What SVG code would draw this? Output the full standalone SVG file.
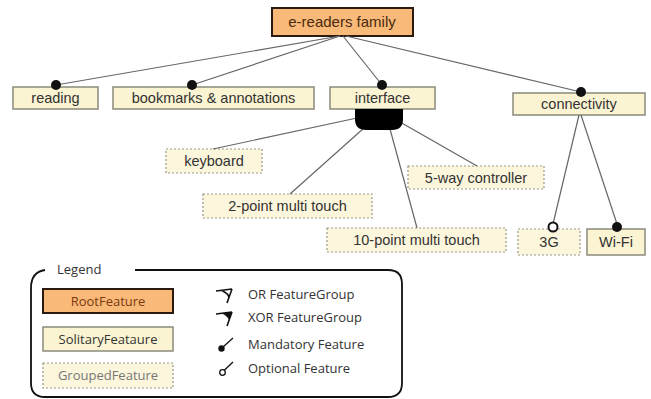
<svg xmlns="http://www.w3.org/2000/svg" width="651" height="399" viewBox="0 0 651 399">
<style>
.t{font-family:"Liberation Sans",Arial,sans-serif;font-size:14.5px;fill:#333;text-anchor:middle}
.lg{font-family:"Open Sans","Liberation Sans",sans-serif;font-size:13px;fill:#333}
.sol{fill:#FBF4D2;stroke:#8c8a7c;stroke-width:1.5}
.grp{fill:#FCF6DC;stroke:#9a988a;stroke-width:1.2;stroke-dasharray:2 2}
.root{fill:#F9B978;stroke:#2a1a10;stroke-width:2}
.ln{stroke:#666;stroke-width:1.2;fill:none}
.dot{fill:#111}
</style>
<rect width="651" height="399" fill="#fff"/>
<g id="root"><rect class="root" x="272" y="8" width="141" height="28"/><text class="t" x="342" y="27" style="fill:#4a2a10;font-size:15px">e-readers family</text></g>
<g id="reading"><rect class="sol" x="13" y="87" width="85" height="22"/><text class="t" x="55.5" y="103">reading</text></g>
<g id="bookmarks"><rect class="sol" x="113" y="87" width="201" height="22"/><text class="t" x="213.5" y="103">bookmarks &amp; annotations</text></g>
<g id="interface"><rect class="sol" x="330" y="87" width="105" height="22"/><text class="t" x="382.5" y="103">interface</text></g>
<g id="connectivity"><rect class="sol" x="513" y="93" width="132" height="22"/><text class="t" x="579" y="109">connectivity</text></g>
<g id="keyboard"><rect class="grp" x="166" y="149" width="96" height="24"/><text class="t" x="214" y="166">keyboard</text></g>
<g id="five-way"><rect class="grp" x="408" y="166" width="136" height="23"/><text class="t" x="476" y="183">5-way controller</text></g>
<g id="two-point"><rect class="grp" x="203" y="194" width="169" height="24"/><text class="t" x="287.5" y="211">2-point multi touch</text></g>
<g id="ten-point"><rect class="grp" x="327" y="228" width="179" height="24"/><text class="t" x="416.5" y="245">10-point multi touch</text></g>
<g id="g3"><rect class="grp" x="518" y="229" width="62" height="26"/><text class="t" x="549" y="247">3G</text></g>
<g id="wifi"><rect class="sol" x="587" y="229" width="58" height="26"/><text class="t" x="616" y="247">Wi-Fi</text></g>
<g id="connectors">
<line class="ln" x1="340" y1="36" x2="56" y2="85"/>
<line class="ln" x1="340" y1="36" x2="192" y2="85"/>
<line class="ln" x1="343" y1="36" x2="382" y2="85"/>
<line class="ln" x1="346" y1="36" x2="581" y2="92"/>
<line class="ln" x1="357" y1="118" x2="213" y2="149"/>
<line class="ln" x1="364" y1="128" x2="290" y2="194"/>
<line class="ln" x1="390" y1="129" x2="417" y2="228"/>
<line class="ln" x1="400" y1="122" x2="477" y2="166"/>
<line class="ln" x1="579" y1="115" x2="553" y2="224"/>
<line class="ln" x1="581" y1="115" x2="617" y2="224"/>
<circle class="dot" cx="56" cy="85" r="5"/>
<circle class="dot" cx="192" cy="85" r="5"/>
<circle class="dot" cx="382" cy="85" r="5"/>
<circle class="dot" cx="581" cy="92" r="5"/>
<circle cx="553" cy="227" r="4.5" fill="#fff" stroke="#111" stroke-width="2"/>
<circle class="dot" cx="617" cy="227" r="5"/>
<path d="M355,109 H403 V119 Q403,130 392,130 H366 Q355,130 355,119 Z" fill="#000"/>
</g>
<g id="legend">
<path d="M45,270 Q31,272 31,288 V383 Q31,397 45,397 H388 Q402,397 402,383 V284 Q402,270 388,270 H135" fill="none" stroke="#111" stroke-width="1.8"/>
<text class="lg" x="57" y="274">Legend</text>
<rect class="root" x="43" y="289" width="130" height="24"/><text class="lg" x="108" y="305.5" text-anchor="middle" style="fill:#7a3a10">RootFeature</text>
<rect class="sol" x="43" y="327" width="130" height="24"/><text class="lg" x="108" y="343.5" text-anchor="middle">SolitaryFeataure</text>
<rect class="grp" x="43" y="363" width="130" height="25"/><text class="lg" x="108" y="380" text-anchor="middle" style="fill:#777">GroupedFeature</text>
<path d="M232,289 L216,291 M232,289 L227,303 M222,290.5 Q229,294 229,298" fill="none" stroke="#111" stroke-width="1.6"/>
<path d="M232,312 L216,314 M232,312 L227,326" fill="none" stroke="#111" stroke-width="1.6"/>
<path d="M232,312 L222,313.5 Q229,317 229,321 Z" fill="#111"/>
<line x1="233" y1="338" x2="223" y2="347" stroke="#111" stroke-width="1.3"/><circle cx="221.5" cy="348.5" r="3.2" fill="#111"/>
<line x1="233" y1="362" x2="224.5" y2="370" stroke="#111" stroke-width="1.3"/><circle cx="222.5" cy="372.5" r="2.8" fill="none" stroke="#111" stroke-width="1.3"/>
<text class="lg" x="248" y="299">OR FeatureGroup</text>
<text class="lg" x="248" y="322">XOR FeatureGroup</text>
<text class="lg" x="248" y="349">Mandatory Feature</text>
<text class="lg" x="248" y="373">Optional Feature</text>
</g>
</svg>
